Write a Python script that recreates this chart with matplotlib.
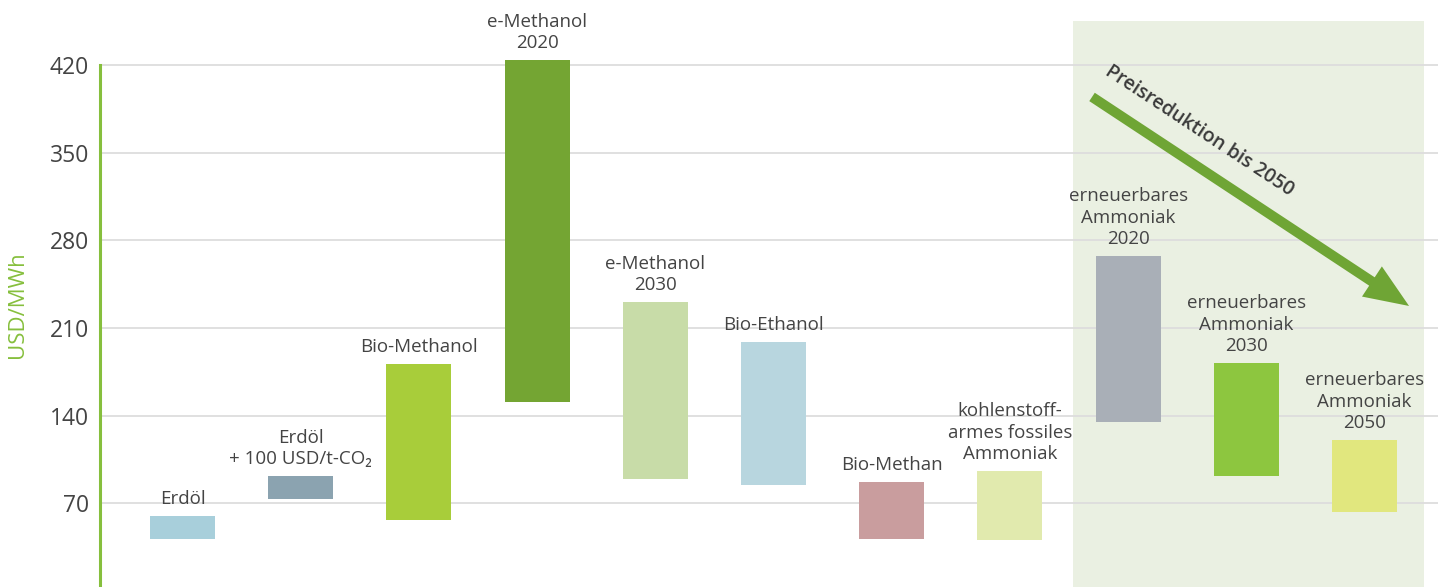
"""Floating bar chart: fuel cost ranges in USD/MWh."""
import matplotlib
matplotlib.use("Agg")
import matplotlib.pyplot as plt
from matplotlib.patches import FancyArrowPatch

plt.rcParams["font.family"] = ["Open Sans", "DejaVu Sans"]

labels = [
    "Erdöl",
    "Erdöl\n+ 100 USD/t-CO₂",
    "Bio-Methanol",
    "e-Methanol\n2020",
    "e-Methanol\n2030",
    "Bio-Ethanol",
    "Bio-Methan",
    "kohlenstoff-\narmes fossiles\nAmmoniak",
    "erneuerbares\nAmmoniak\n2020",
    "erneuerbares\nAmmoniak\n2030",
    "erneuerbares\nAmmoniak\n2050",
]
low = [41.5, 73.5, 56.7, 150.9, 89.4, 84.6, 41.5, 40.7, 135.0, 91.8, 63.1]
high = [59.9, 91.8, 181.3, 424.0, 230.8, 198.8, 87.0, 95.8, 267.5, 182.0, 120.6]
colors = ["#A8CFDB", "#8BA3B0", "#A8CD3A", "#74A533", "#C8DCA8", "#B8D6DF",
          "#C99D9E", "#E1EAAE", "#A9AFB7", "#8DC63F", "#E1E77E"]
yticks = [70, 140, 210, 280, 350, 420]

highlight_span = (7.53, 10.5, 455.4)       # x0, x1, top (data units)
arrow_start = (7.695, 394.5)
arrow_end = (10.377, 227.6)
arrow_text_pos = (8.605, 367.5)

TEXT = "#444444"
GREEN = "#86BF3D"

fig = plt.figure(figsize=(14.38, 5.87), dpi=100)
ax = fig.add_axes([100 / 1438, 0, 1 - 100 / 1438, 1])
ax.set_xlim(-0.698, 10.622)
ax.set_ylim(3.2, 471.9)

# shaded region for renewable ammonia
x0, x1, top = highlight_span
ax.fill_between([x0, x1], 0, top, color="#EAF0E2", lw=0, zorder=0.5)

for y in yticks:
    ax.axhline(y, color="#DDDDDD", lw=1.3, zorder=1)

xs = list(range(len(labels)))
heights = [h - l for h, l in zip(high, low)]
ax.bar(xs, heights, bottom=low, width=0.55, color=colors, zorder=2)

for x, h, lab in zip(xs, high, labels):
    ax.annotate(lab, (x, h), xytext=(0, 5.5), textcoords="offset points",
                ha="center", va="bottom", fontsize=13.5, color=TEXT,
                linespacing=1.25, zorder=3)

# price reduction arrow
arr = FancyArrowPatch(arrow_start, arrow_end,
                      arrowstyle="simple,head_length=32,head_width=26,tail_width=7.2",
                      mutation_scale=1, shrinkA=0, shrinkB=0,
                      color="#6FA535", lw=0, zorder=3)
ax.add_patch(arr)
ax.text(*arrow_text_pos, "Preisreduktion bis 2050", rotation=-33.4,
        rotation_mode="anchor", ha="center", va="center",
        fontsize=14, fontweight="semibold", color="#3A3A3A", zorder=3)

ax.set_xticks([])
ax.set_yticks(yticks)
ax.tick_params(axis="y", length=0, pad=8, labelsize=16.5, labelcolor=TEXT)
for s in ("top", "right", "bottom"):
    ax.spines[s].set_visible(False)
ax.spines["left"].set_color(GREEN)
ax.spines["left"].set_linewidth(2.2)
ax.spines["left"].set_bounds(3.2, 420)

fig.text(18 / 1438, 1 - 305 / 587, "USD/MWh", rotation=90, ha="center",
         va="center", fontsize=16, color=GREEN)

fig.savefig("out.png", dpi=100)
